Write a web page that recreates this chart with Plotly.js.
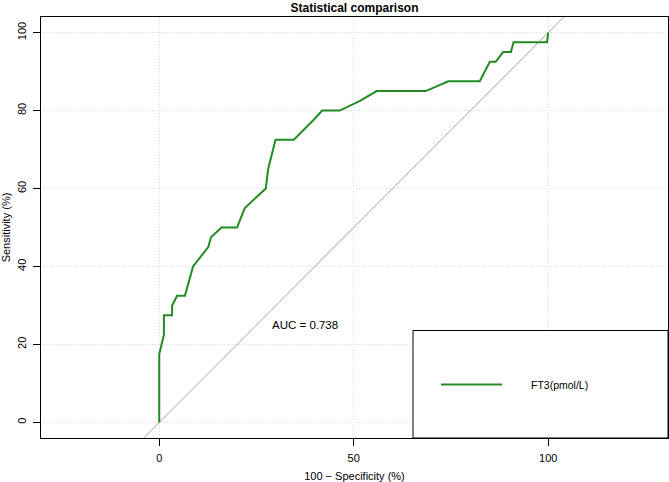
<!DOCTYPE html>
<html>
<head>
<meta charset="utf-8">
<script src="https://cdn.plot.ly/plotly-3.0.1.min.js"></script>
<style>html,body{margin:0;padding:0;background:#fff;}#chart{width:669px;height:482px;}</style>
</head>
<body>
<div id="chart"></div>
<script>
// ROC curve points: 100 - Specificity (%) and Sensitivity (%)
const fpr = [0, 0, 1.2, 1.2, 3.3, 3.3, 4.6, 6.6, 8.7, 12.6, 13.3, 16, 20, 22, 27.4, 28, 29.9, 34.6, 39.6, 41.9, 46.4, 51.6, 55.9, 68.5, 74.3, 82.4, 85, 86.5, 88.4, 90.4, 91.1, 99.7, 100];
const tpr = [0, 17.5, 22.5, 27.5, 27.5, 30, 32.5, 32.5, 40, 45, 47.5, 50, 50, 55, 60, 65, 72.5, 72.5, 77.5, 80, 80, 82.5, 85, 85, 87.5, 87.5, 92.5, 92.5, 95, 95, 97.5, 97.5, 100];
const diagX = [-40, 140];
const diagY = [-40, 140];
const xTicks = [0, 50, 100];
const yTicks = [0, 20, 40, 60, 80, 100];
const seriesName = "FT3(pmol/L)";
const aucText = "AUC = 0.738";
const aucPos = [37.5, 25];

const green = "#228B22";
const font = "Liberation Sans, Arial, Helvetica, sans-serif";

const traces = [
  {x: diagX, y: diagY, mode: "lines", line: {color: "#a0a0a0", width: 1}, showlegend: false, hoverinfo: "skip"},
  {x: fpr, y: tpr, mode: "lines", name: seriesName, line: {color: green, width: 2}, showlegend: false}
];

const layout = {
  width: 669, height: 482,
  margin: {l: 41, r: 1, t: 17, b: 44, pad: 0},
  paper_bgcolor: "#fff", plot_bgcolor: "#fff",
  font: {family: font, size: 11, color: "#000"},
  showlegend: false,
  title: {text: "<b>Statistical comparison</b>", font: {size: 12, family: font, color: "#000"},
          x: 0.5, xref: "paper", xanchor: "center", y: 1 - 8/482, yref: "container", yanchor: "middle"},
  xaxis: {
    range: [-30.4, 130.8], tickvals: xTicks, ticktext: xTicks.map(String),
    ticks: "outside", ticklen: 7, tickcolor: "#000", tickwidth: 1, ticklabelstandoff: 3,
    showgrid: true, gridcolor: "#d8d8d8", griddash: "1px,2px", gridwidth: 1,
    zeroline: false, showline: true, linecolor: "#000", linewidth: 1, mirror: true,
    title: {text: "100 \u2212 Specificity (%)", font: {size: 11}, standoff: 12},
    tickfont: {size: 11}, fixedrange: true
  },
  yaxis: {
    range: [-4, 104], tickvals: yTicks, ticktext: yTicks.map(String),
    ticks: "outside", ticklen: 7, tickcolor: "#000", tickwidth: 1, tickangle: -90, ticklabelstandoff: 3,
    showgrid: true, gridcolor: "#d8d8d8", griddash: "1px,2px", gridwidth: 1,
    zeroline: false, showline: true, linecolor: "#000", linewidth: 1, mirror: true,
    title: {text: "Sensitivity (%)", font: {size: 11}, standoff: 6},
    tickfont: {size: 11}, fixedrange: true
  },
  shapes: [
    {type: "rect", xref: "paper", yref: "paper", x0: (413-41)/627, x1: 1, y0: 0, y1: (438-330.5)/421,
     line: {color: "#000", width: 1}, fillcolor: "#fff", layer: "above"},
    {type: "line", xref: "paper", yref: "paper", x0: (441-41)/627, x1: (502-41)/627,
     y0: (438-384.5)/421, y1: (438-384.5)/421, line: {color: green, width: 2}, layer: "above"}
  ],
  annotations: [
    {x: aucPos[0], y: aucPos[1], xref: "x", yref: "y", text: aucText, showarrow: false,
     font: {size: 11.5, family: font, color: "#000"}, xanchor: "center", yanchor: "middle"},
    {x: (529-41)/627, y: (438-384.5)/421, xref: "paper", yref: "paper", text: seriesName, showarrow: false,
     font: {size: 10.5, family: font, color: "#000"}, xanchor: "left", yanchor: "middle"}
  ]
};

Plotly.newPlot("chart", traces, layout, {displayModeBar: false, staticPlot: true});
</script>
</body>
</html>
